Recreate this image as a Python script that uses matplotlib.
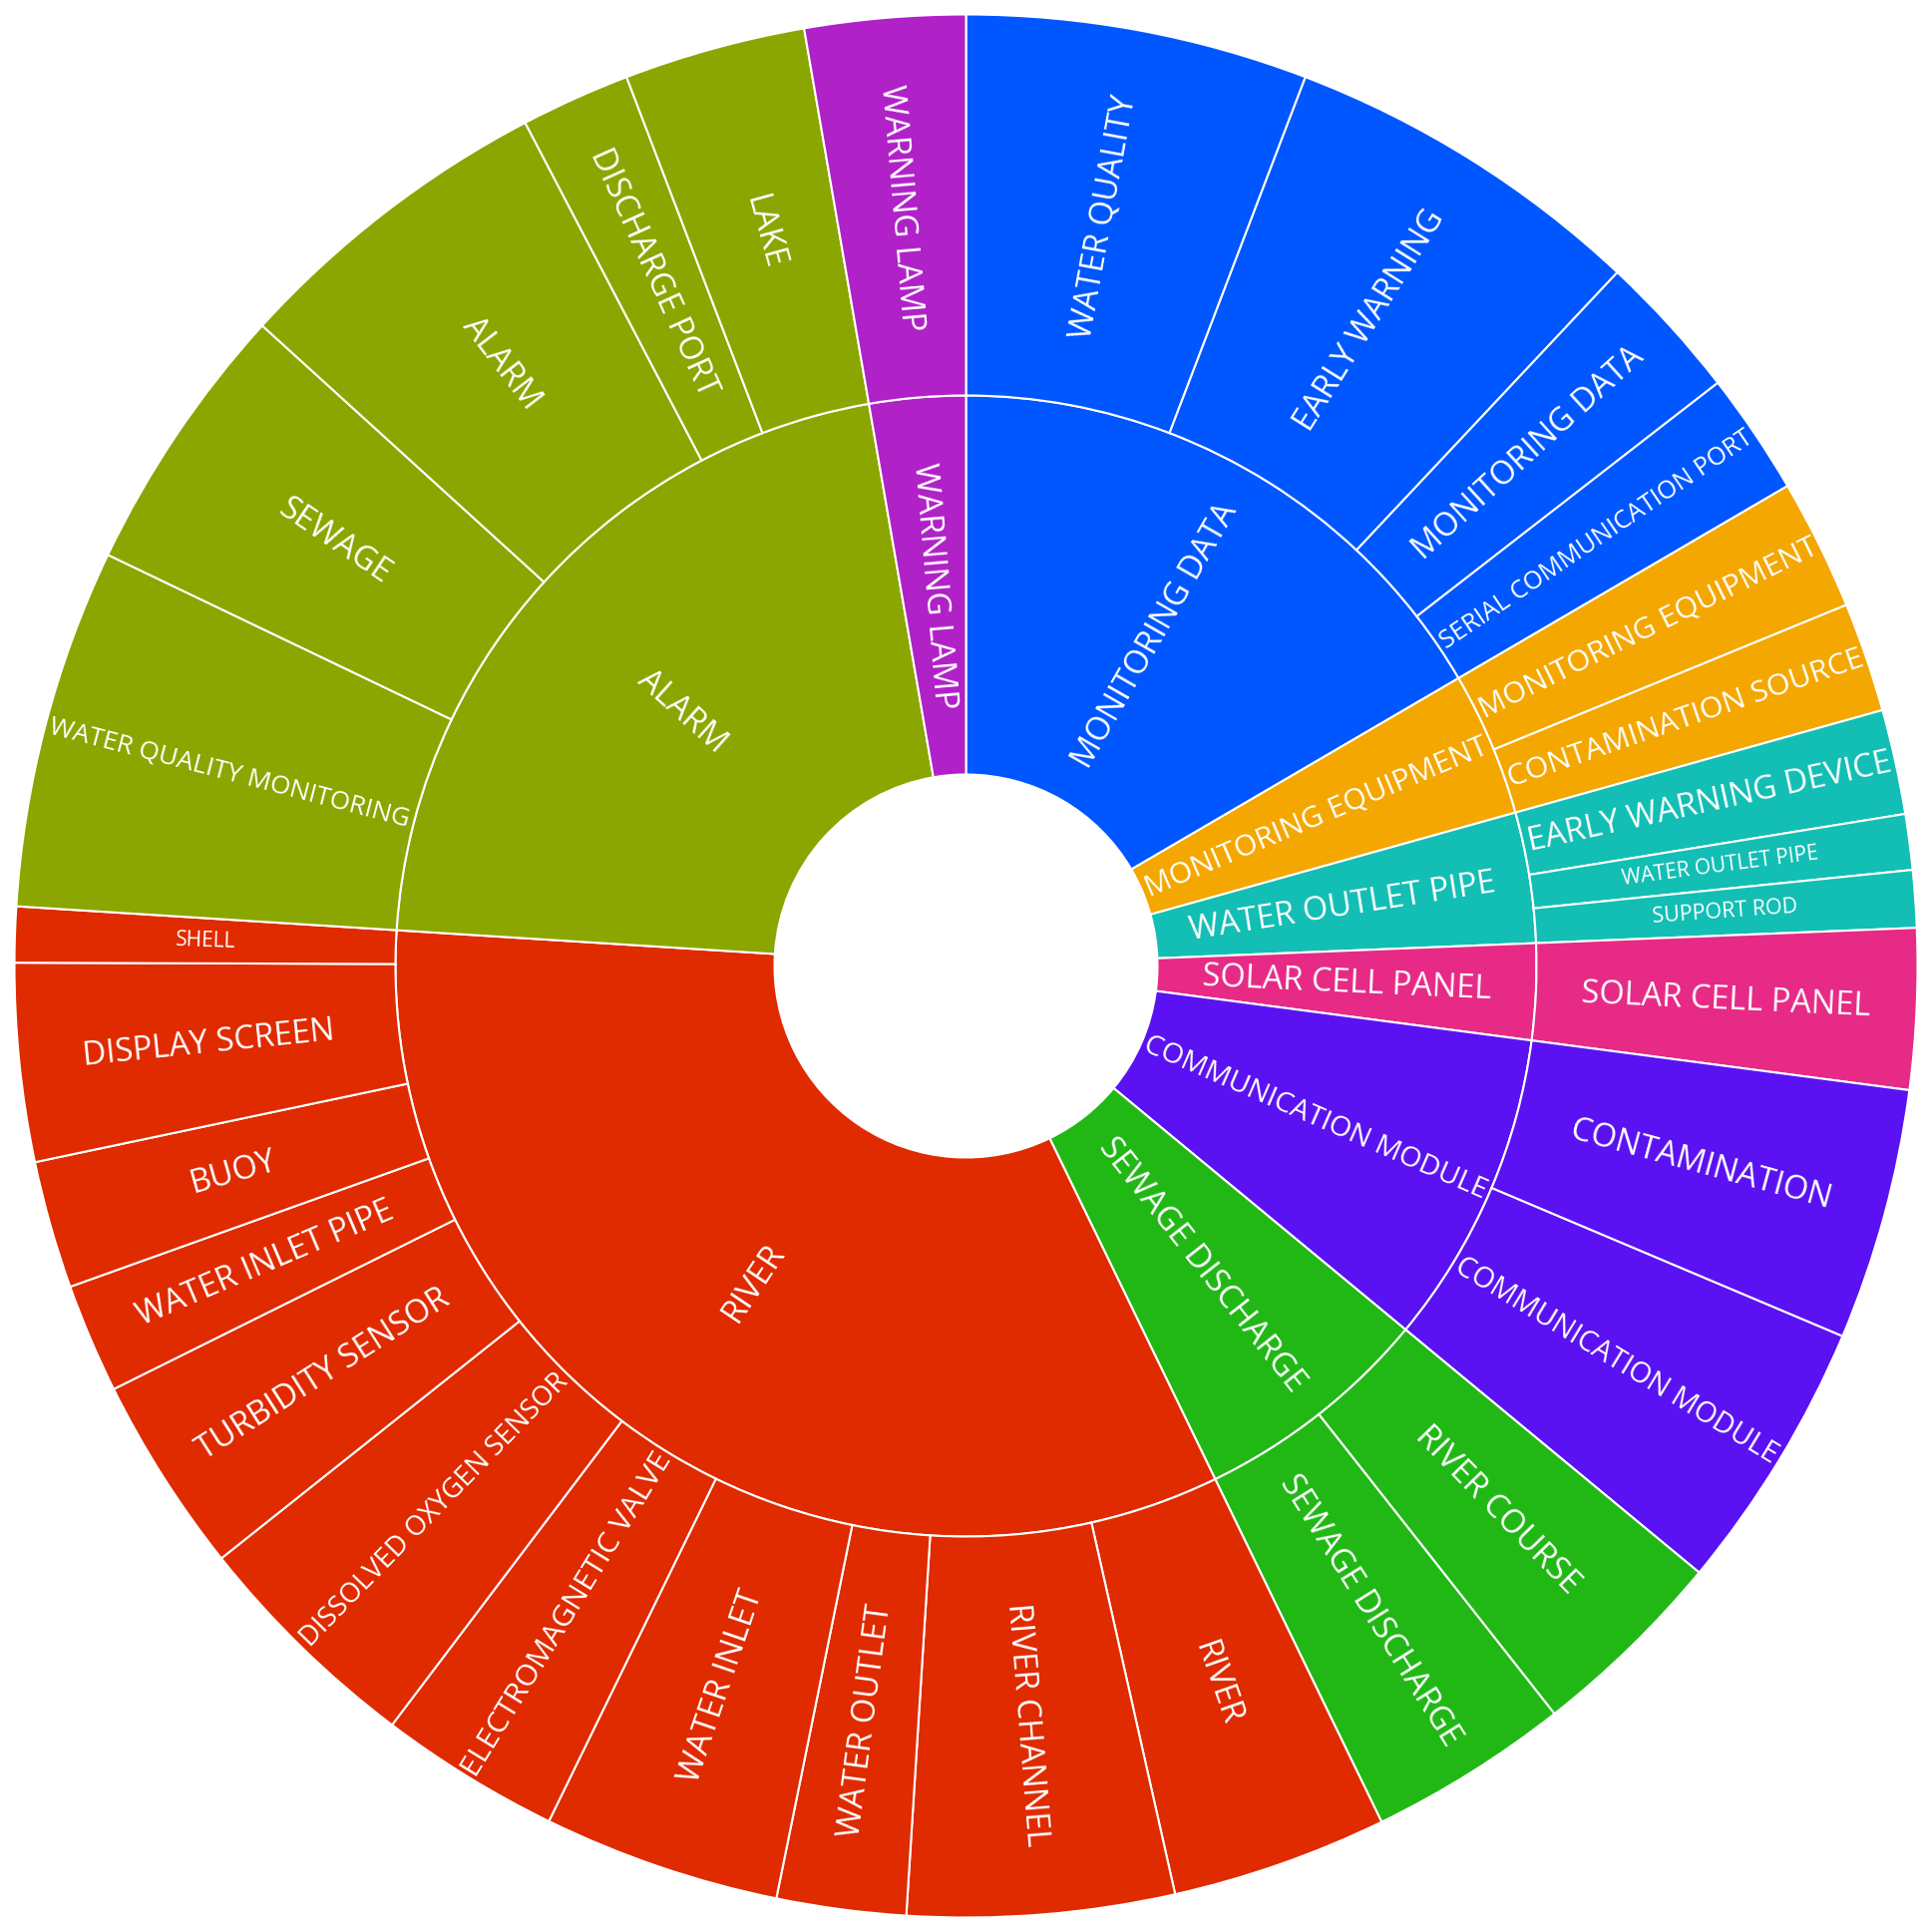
import numpy as np
import matplotlib.pyplot as plt
from matplotlib.textpath import TextPath
from matplotlib.font_manager import FontProperties

plt.rcParams['font.family'] = ['Open Sans', 'DejaVu Sans']

# inner ring, clockwise from 12 o'clock
parents = ['MONITORING DATA', 'MONITORING EQUIPMENT', 'WATER OUTLET PIPE',
           'SOLAR CELL PANEL', 'COMMUNICATION MODULE', 'SEWAGE DISCHARGE',
           'RIVER', 'ALARM', 'WARNING LAMP']

# outer ring, grouped by parent
children = [
    ['WATER QUALITY', 'EARLY WARNING', 'MONITORING DATA', 'SERIAL COMMUNICATION PORT'],
    ['MONITORING EQUIPMENT', 'CONTAMINATION SOURCE'],
    ['EARLY WARNING DEVICE', 'WATER OUTLET PIPE', 'SUPPORT ROD'],
    ['SOLAR CELL PANEL'],
    ['CONTAMINATION', 'COMMUNICATION MODULE'],
    ['RIVER COURSE', 'SEWAGE DISCHARGE'],
    ['RIVER', 'RIVER CHANNEL', 'WATER OUTLET', 'WATER INLET', 'ELECTROMAGNETIC VALVE',
     'DISSOLVED OXYGEN SENSOR', 'TURBIDITY SENSOR', 'WATER INLET PIPE', 'BUOY',
     'DISPLAY SCREEN', 'SHELL'],
    ['WATER QUALITY MONITORING', 'SEWAGE', 'ALARM', 'DISCHARGE PORT', 'LAKE'],
    ['WARNING LAMP'],
]
child_values = [
    [20.9, 22.3, 9.0, 7.5],
    [8.0, 6.7],
    [6.4, 3.4, 3.5],
    [9.8],
    [15.4, 16.7],
    [12.2, 12.3],
    [13.2, 16.3, 7.9, 14.5, 11.1, 14.4, 12.1, 6.7, 7.8, 12.1, 3.4],
    [22.0, 16.7, 20.1, 6.7, 11.1],
    [9.8],
]
parent_values = [sum(v) for v in child_values]

colors = ['#0057FF', '#F4A700', '#13BEB4', '#E62A86', '#5A12F2',
          '#21B816', '#E02A00', '#8BA600', '#B021C8']

# ring radii in pixels (figure is 1937 px wide, polar axes radius 968.5)
R_HOLE, R_MID, R_OUT = 192, 572, 954
BASE = 23.5          # pt
PX = 100 / 72        # px per pt at dpi 100
fp = FontProperties(family='Open Sans')

# labels that plotly shrank to fit thin slices
small = {('outer', 'WATER OUTLET PIPE'): 15, ('outer', 'SUPPORT ROD'): 15.5,
         ('outer', 'SHELL'): 15}


def fit_size(label, depth):
    w = TextPath((0, 0), label, size=100, prop=fp).get_extents().width / 100 * PX
    return min(BASE, 0.97 * depth / w)


def label(ax, ring, text, t0, width, r0, r1):
    mid = t0 + width / 2
    deg = np.degrees(mid)
    rot = 90 - deg
    rot = (rot + 180) % 360 - 180
    if rot < -90:
        rot += 180
    elif rot > 90:
        rot -= 180
    size = small.get((ring, text), fit_size(text, r1 - r0))
    ax.text(mid, (r0 + r1) / 2, text, rotation=rot, rotation_mode='anchor',
            ha='center', va='center', color='white', fontsize=size)


fig = plt.figure(figsize=(19.37, 19.37), dpi=100)
ax = fig.add_axes([0, 0, 1, 1], projection='polar')
ax.set_theta_zero_location('N')
ax.set_theta_direction(-1)
ax.set_ylim(0, 968.5)
ax.axis('off')

scale = 2 * np.pi / sum(parent_values)

t = 0.0
for name, pv, col, kids, kv in zip(parents, parent_values, colors, children, child_values):
    w = pv * scale
    ax.bar(t, R_MID - R_HOLE, width=w, bottom=R_HOLE, align='edge',
           color=col, edgecolor='white', linewidth=1.5)
    label(ax, 'inner', name, t, w, R_HOLE, R_MID)
    tc = t
    for kname, v in zip(kids, kv):
        cw = v * scale
        ax.bar(tc, R_OUT - R_MID, width=cw, bottom=R_MID, align='edge',
               color=col, edgecolor='white', linewidth=1.5)
        label(ax, 'outer', kname, tc, cw, R_MID, R_OUT)
        tc += cw
    t += w

fig.savefig('out.png', dpi=100, facecolor='white')
